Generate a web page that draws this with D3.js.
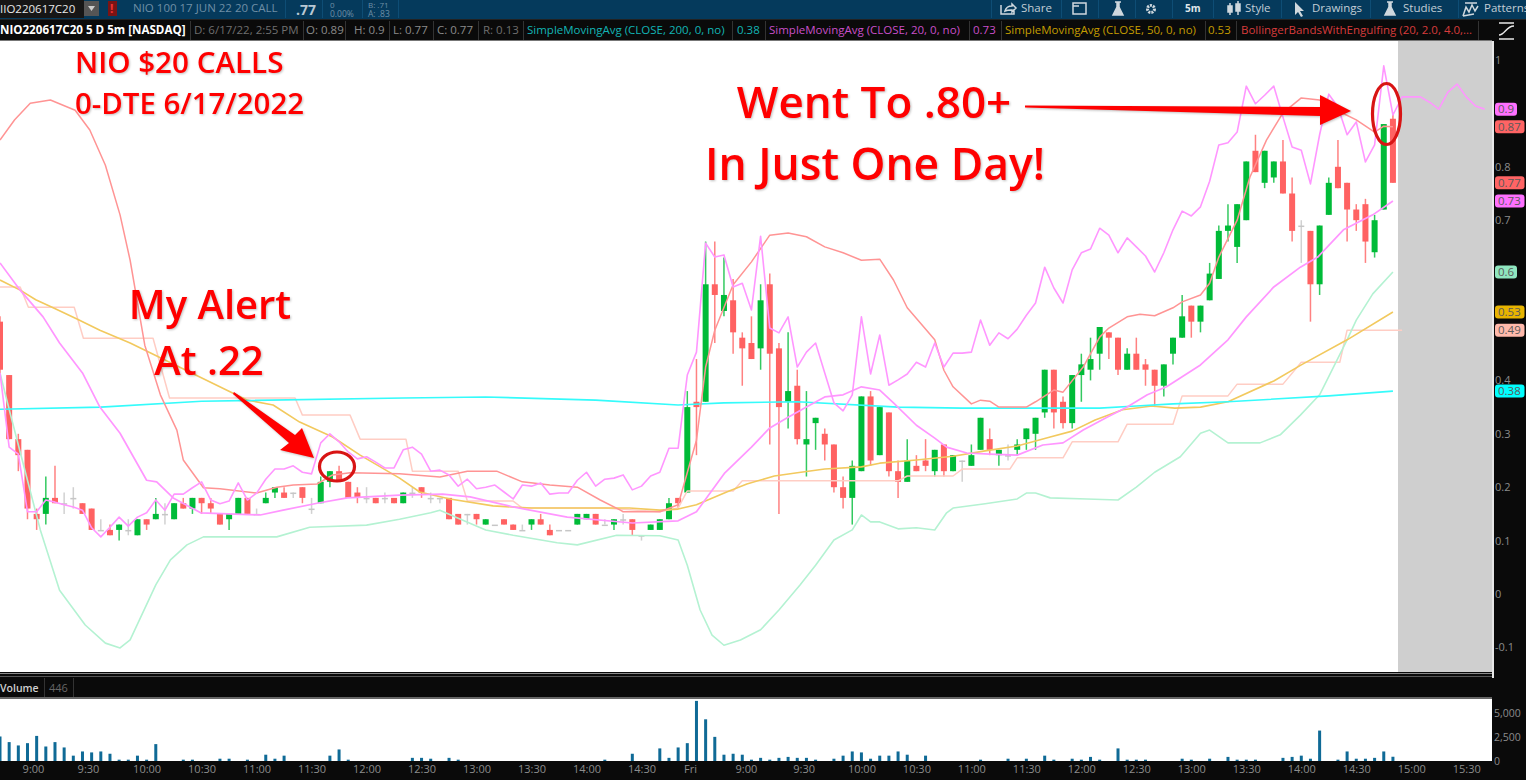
<!DOCTYPE html>
<html><head><meta charset="utf-8">
<script src="https://cdnjs.cloudflare.com/ajax/libs/d3/7.8.5/d3.min.js"></script>
<style>html,body{margin:0;padding:0;background:#0a0a0a;overflow:hidden}svg{display:block}text{font-family:"Open Sans",sans-serif}</style>
</head><body><svg id="c" width="1526" height="780"></svg>
<script>
// ---- Candles (5 min bars, option price in dollars) ----
const opens=[.51,.41,.29,.27,.15,.15,.18,.17,.18,.17,.16,.12,.12,.12,.12,.11,.14,.14,.15,.14,.17,.16,.18,.17,.15,.14,.15,.18,.15,.17,.19,.19,.19,.20,.16,.17,.21,.23,.21,.19,.18,.18,.18,.18,.17,.19,.20,.18,.18,.18,.15,.15,.15,.13,.13,.14,.13,.12,.13,.14,.12,.12,.12,.13,.14,.15,.13,.13,.14,.14,.11,.12,.12,.14,.18,.19,.36,.36,.58,.53,.55,.48,.47,.46,.58,.46,.36,.39,.28,.32,.30,.28,.20,.18,.23,.37,.26,.34,.23,.21,.24,.25,.23,.28,.23,.25,.24,.27,.29,.26,.26,.27,.29,.30,.34,.42,.36,.32,.41,.42,.45,.49,.48,.42,.45,.43,.42,.39,.45,.48,.54,.51,.55,.59,.68,.65,.70,.83,.77,.78,.81,.75,.69,.68,.58,.71,.80,.77,.72,.73,.64,.72,.89];
const highs=[.52,.41,.30,.27,.16,.22,.24,.19,.20,.17,.16,.14,.13,.13,.14,.14,.14,.18,.17,.17,.18,.18,.18,.18,.15,.15,.18,.18,.16,.19,.20,.20,.19,.20,.18,.22,.23,.24,.21,.20,.20,.18,.19,.18,.19,.20,.20,.19,.18,.18,.15,.15,.15,.14,.13,.14,.13,.13,.14,.15,.13,.12,.12,.15,.15,.15,.14,.14,.15,.14,.11,.13,.14,.18,.18,.38,.44,.66,.66,.63,.59,.49,.52,.58,.60,.47,.49,.42,.38,.33,.31,.28,.22,.25,.37,.38,.35,.34,.25,.29,.26,.29,.27,.28,.26,.25,.28,.33,.31,.27,.28,.29,.31,.33,.42,.42,.37,.41,.45,.48,.50,.49,.48,.46,.48,.44,.42,.43,.48,.56,.54,.54,.62,.69,.73,.73,.81,.86,.83,.81,.85,.78,.70,.68,.69,.78,.85,.77,.73,.74,.71,.88,.90];
const lows=[.41,.29,.23,.14,.12,.13,.17,.15,.16,.15,.12,.12,.11,.10,.11,.11,.12,.14,.13,.14,.16,.15,.15,.15,.13,.12,.15,.15,.15,.17,.18,.18,.18,.17,.15,.17,.20,.21,.18,.17,.17,.17,.17,.17,.17,.18,.18,.17,.17,.14,.13,.13,.13,.13,.13,.13,.12,.12,.12,.13,.11,.12,.12,.13,.14,.13,.13,.12,.13,.11,.10,.12,.12,.14,.16,.19,.26,.36,.47,.52,.45,.39,.44,.42,.28,.15,.31,.28,.22,.27,.25,.19,.16,.13,.23,.24,.26,.22,.18,.21,.23,.23,.22,.22,.23,.21,.24,.27,.26,.24,.25,.26,.27,.27,.33,.31,.31,.31,.36,.40,.42,.44,.41,.42,.42,.39,.35,.37,.43,.48,.48,.49,.55,.59,.66,.62,.70,.79,.76,.77,.75,.66,.62,.51,.56,.71,.76,.66,.68,.62,.63,.72,.77];
const closes=[.42,.29,.26,.16,.14,.18,.17,.17,.18,.15,.12,.12,.11,.13,.12,.14,.13,.15,.15,.17,.16,.18,.17,.16,.13,.15,.18,.15,.15,.18,.20,.18,.19,.18,.16,.21,.23,.21,.18,.18,.18,.17,.18,.17,.19,.19,.19,.18,.18,.14,.13,.15,.14,.14,.13,.13,.12,.12,.14,.13,.11,.12,.12,.15,.15,.13,.13,.14,.14,.12,.11,.13,.14,.17,.17,.35,.35,.58,.56,.56,.49,.46,.44,.55,.45,.35,.38,.29,.29,.33,.28,.20,.18,.24,.37,.25,.35,.23,.21,.25,.23,.24,.27,.23,.26,.25,.26,.33,.27,.27,.26,.28,.31,.33,.42,.34,.32,.41,.43,.44,.50,.48,.42,.45,.42,.42,.39,.43,.48,.52,.51,.54,.60,.68,.69,.73,.81,.79,.83,.81,.75,.68,.69,.58,.69,.77,.76,.72,.70,.66,.70,.88,.77];
// ---- Volume per bar ----
const volumes=[2570,1980,1630,1870,2630,1520,1980,1420,560,1000,900,1000,760,140,140,560,140,1770,0,0,140,140,0,0,240,240,0,140,0,660,240,560,0,0,0,0,560,1210,140,0,0,0,0,0,0,330,330,240,0,330,140,0,0,0,0,0,0,0,0,0,0,0,0,0,0,0,140,0,0,760,0,0,1320,330,1420,1870,6300,4370,2530,660,760,660,140,330,140,330,430,330,330,140,0,240,560,1000,900,240,560,560,1000,660,0,560,0,0,0,0,0,140,0,0,240,0,240,0,560,140,0,240,140,430,140,0,1320,140,140,140,0,0,0,240,140,0,240,0,430,140,140,140,0,0,330,430,560,240,3190,0,140,1000,240,240,330,1000,446];
// ---- Studies ----
const upperEnvelope=[.414,.275,.262,.154,.154,.176,.172,.167,.163,.157,.124,.107,.125,.144,.127,.144,.152,.176,.157,.187,.187,.199,.210,.176,.169,.174,.208,.176,.189,.215,.234,.234,.240,.228,.225,.283,.300,.285,.266,.253,.257,.247,.236,.236,.270,.275,.262,.230,.232,.223,.202,.215,.197,.200,.204,.191,.178,.204,.202,.208,.187,.189,.189,.213,.228,.202,.215,.217,.223,.195,.202,.221,.228,.273,.273,.410,.453,.657,.631,.635,.575,.582,.532,.670,.498,.489,.519,.425,.453,.470,.414,.358,.343,.373,.519,.412,.485,.391,.401,.412,.434,.425,.470,.425,.451,.451,.453,.513,.466,.489,.478,.496,.522,.545,.612,.573,.545,.607,.639,.646,.685,.672,.639,.667,.650,.633,.603,.639,.682,.717,.708,.725,.773,.841,.845,.865,.951,.918,.934,.951,.893,.837,.831,.768,.860,.936,.912,.860,.884,.809,.841,.989,.897,.931,.931,.931,.921,.908,.940,.955,.931,.914,.908];
const sma200=[[0,.346],[11,.350],[22,.361],[44,.367],[53,.369],[65,.363],[74,.354],[79,.358],[87,.360],[98,.350],[105,.348],[120,.348],[124,.352],[128,.356],[134,.360],[145,.371],[152,.380]];
const sma20=[[0,.620],[2.2,.569],[4.7,.519],[6.5,.470],[9,.414],[10.9,.350],[13.1,.301],[16,.213],[17.1,.210],[18.9,.180],[21.9,.152],[28.4,.148],[30.9,.157],[34.6,.170],[37.9,.180],[43.6,.185],[48.3,.187],[51.3,.182],[56,.163],[61.9,.144],[69,.133],[74,.137],[76,.154],[79.1,.227],[82,.275],[84,.311],[86,.331],[88,.350],[90,.369],[92,.373],[94,.388],[96,.382],[97.5,.358],[100,.316],[102,.292],[103.3,.275],[105.5,.264],[108,.262],[111,.260],[113.8,.279],[116,.283],[118.2,.307],[120.8,.331],[123,.350],[125.2,.373],[127.3,.388],[131,.429],[134,.476],[136,.519],[139,.575],[141.9,.612],[143.8,.631],[146.6,.682],[149.8,.710],[152,.736]];
const sma50=[[0,.588],[2.2,.569],[3.9,.551],[5.8,.536],[8.4,.515],[10.9,.494],[14.2,.470],[27,.363],[29.8,.354],[32.7,.322],[36.3,.294],[39.3,.260],[43.6,.217],[45.8,.191],[49.1,.178],[53.8,.165],[58,.161],[68.7,.161],[72,.157],[74,.159],[76,.167],[79.3,.191],[81.5,.206],[84.5,.221],[87,.227],[90,.234],[94,.238],[96,.245],[100,.251],[104,.258],[107.5,.268],[111,.277],[114.6,.294],[117,.305],[119.5,.326],[122.5,.345],[125.7,.352],[128.2,.348],[131,.350],[134,.360],[139,.399],[142,.429],[147,.476],[152,.528]];
const bbUpper=[[0,.850],[1.6,.888],[3.3,.919],[5.5,.925],[8.2,.906],[9.8,.869],[11.5,.803],[13.1,.710],[14.2,.625],[15.8,.466],[17.5,.373],[19.3,.307],[20,.251],[22.2,.199],[24,.197],[28,.189],[30.2,.200],[32,.204],[34.6,.206],[36.3,.223],[38.2,.227],[43.6,.225],[48,.219],[51,.230],[54.2,.230],[57,.210],[60,.204],[63,.200],[65.5,.176],[67.7,.157],[68,.154],[72,.154],[74,.167],[76,.288],[77,.425],[78,.494],[80,.579],[82,.622],[84,.672],[86,.676],[88,.669],[90,.650],[92,.639],[94,.625],[96,.627],[97.5,.588],[99,.536],[102,.476],[103,.419],[104,.388],[106,.356],[107,.363],[108,.361],[109,.350],[112,.350],[113,.360],[115,.382],[116,.378],[118.2,.425],[120,.481],[121,.498],[123,.519],[124.4,.524],[126,.521],[128,.536],[129,.547],[131,.560],[132,.582],[133,.631],[135,.700],[136.4,.781],[138.2,.850],[140,.901],[142,.929],[144,.925],[146.2,.903],[148,.888],[150,.865],[151,.876],[152,.875]];
const bbLower=[[0,.414],[1.1,.339],[4.4,.120],[6.5,.007],[9.3,-.058],[11.5,-.092],[13.1,-.101],[14.2,-.086],[17,.017],[18.6,.064],[20.4,.092],[22.2,.107],[30.2,.107],[33.8,.125],[40,.129],[43.6,.140],[47,.152],[48,.157],[50,.142],[53,.120],[56,.110],[60.8,.096],[63,.092],[67.3,.110],[72,.109],[74,.101],[75,.054],[76.4,-.030],[77.7,-.077],[79,-.096],[80.8,-.086],[83,-.067],[85,-.030],[87.3,.017],[89,.054],[91,.101],[93,.120],[94,.148],[95,.135],[96,.135],[98,.122],[100,.124],[102,.120],[103.3,.152],[104,.161],[107.5,.169],[111,.178],[112,.189],[113,.189],[114.6,.180],[118.6,.178],[122,.176],[124,.200],[126,.228],[128.8,.257],[131,.301],[132,.307],[134,.283],[137.5,.283],[139.7,.298],[141.9,.335],[144,.373],[147,.476],[148,.513],[149.8,.562],[152,.603]];
const stepLine=[[0,.575],[2.2,.575],[3.1,.537],[8.1,.537],[9.1,.479],[16.7,.479],[18.5,.367],[32.2,.367],[33,.335],[38.2,.335],[39.3,.290],[44.3,.290],[45,.230],[50,.230],[51,.174],[56,.174],[57,.161],[66,.161],[72,.154],[74,.161],[75,.193],[80,.193],[81,.212],[98,.212],[99,.221],[104,.221],[105,.234],[110.2,.234],[111,.255],[116,.255],[117,.285],[122,.285],[123,.318],[128,.318],[129,.371],[134,.371],[135,.393],[140,.393],[142,.434],[146.2,.434],[147,.494],[153,.494]];
// ---- Axis labels and tags ----
const priceTicks=[1,.8,.7,.4,.3,.2,.1,0,-.1];
const priceTickLabels=["1","0.8","0.7","0.4","0.3","0.2","0.1","0","-0.1"];
const volumeTicks=[5000,2500];
const timeBars=[3.6,9.6,16,22,28,34,40,46,52,58,64,70,75.3,81.4,87.7,94,100,106,112,118,124,130,136,142,148,154,160];
const timeLabels=["9:00","9:30","10:00","10:30","11:00","11:30","12:00","12:30","13:00","13:30","14:00","14:30","Fri","9:00","9:30","10:00","10:30","11:00","11:30","12:00","12:30","13:00","13:30","14:00","14:30","15:00","15:30"];
const tagValues=[.908,.875,.77,.736,.603,.528,.494,.38];
const tagLabels=["0.9","0.87","0.77","0.73","0.6","0.53","0.49","0.38"];
const tagColors=["#ff70ff","#ff6464","#ff6464","#ff70ff","#8fe6bf","#e8b400","#ffb9ab","#00ffff"];
const headerCells=[
 ["NIO220617C20 5 D 5m [NASDAQ]",0,"#ffffff",700],["D: 6/17/22, 2:55 PM",194,"#6f6f6f",400],["O: 0.89",306,"#8a8a8a",400],["H: 0.9",354,"#8a8a8a",400],["L: 0.77",393,"#8a8a8a",400],["C: 0.77",437,"#8a8a8a",400],["R: 0.13",483,"#6f6f6f",400],
 ["SimpleMovingAvg (CLOSE, 200, 0, no)",527,"#12b5b5",400],["0.38",737,"#12b5b5",400],["SimpleMovingAvg (CLOSE, 20, 0, no)",769,"#c94fc9",400],["0.73",973,"#c94fc9",400],["SimpleMovingAvg (CLOSE, 50, 0, no)",1005,"#c49c00",400],["0.53",1208,"#c49c00",400],["BollingerBandsWithEngulfing (20, 2.0, 4.0,...",1241,"#d83c3c",400]];
const headerSeparators=[190,303,345,389,433,478,523,732,765,969,1001,1205,1236,1478];
const toolbarLabels=[["Share",1021],["Style",1245],["Drawings",1312],["Studies",1403],["Patterns",1484]];
const toolbarSeparators=[991,1061,1098,1135,1172,1213,1281,1370,1458];

const svg=d3.select("#c");
const bar=i=>9.164*i;
const x=d3.scaleLinear().domain([0,162]).range([bar(0),bar(162)]);
const y=d3.scaleLinear().domain([-.1,1]).range([647.4,60]);
const yV=d3.scaleLinear().domain([0,5000]).range([761,713.3]);
const rect=(g,a,b,w,h,f)=>g.append("rect").attr("x",a).attr("y",b).attr("width",w).attr("height",h).attr("fill",f);
const txt=(g,s,a,b,o={})=>g.append("text").attr("x",a).attr("y",b).text(s).attr("font-size",o.size||11).attr("fill",o.fill||"#999").attr("font-weight",o.weight||400).attr("text-anchor",o.anchor||"start");

// panels
rect(svg,0,0,1526,780,"#0a0a0a");
rect(svg,0,0,1526,19,"#053a5c");
rect(svg,0,41,1492,631,"#ffffff");
rect(svg,1398,41,94,631,"#cfcfcf");
rect(svg,0,673,1492,1,"#8a8a8a");rect(svg,0,676,1492,1,"#555");
rect(svg,0,697,1492,2,"#666");
rect(svg,0,699,1492,62,"#ffffff");
rect(svg,1492,41,2,637,"#e8e8e8");
rect(svg,0,40,1492,1,"#777");rect(svg,0,19,1526,1,"#222");

// toolbar
const tb=svg.append("g");
rect(tb,0,0,84,18,"#161616");
txt(tb,"IIO220617C20",0,13,{fill:"#e8e8e8",size:11.5});
rect(tb,84,1,15,15,"#555");tb.append("path").attr("d","M88 6h7l-3.5 5z").attr("fill","#ccc");
rect(tb,108,1,9,15,"#7a1414");txt(tb,"!",110,13,{fill:"#e33",size:12,weight:700});
txt(tb,"NIO 100 17 JUN 22 20 CALL",133,12,{fill:"#6f8fa6",size:11.5});
txt(tb,".77",296,15,{fill:"#b8c8d4",size:14,weight:700});
txt(tb,"0",330,8,{fill:"#6f8fa6",size:8});txt(tb,"0.00%",330,17,{fill:"#6f8fa6",size:8.5});
txt(tb,"B: .71",368,8,{fill:"#6f8fa6",size:8});txt(tb,"A: .83",368,17,{fill:"#6f8fa6",size:8.5});
[285,322,362,398].forEach(a=>rect(tb,a,0,1,18,"#0e4d75"));
toolbarSeparators.forEach(a=>rect(tb,a,0,1,18,"#0e4d75"));
toolbarLabels.forEach(d=>txt(tb,d[0],d[1],12,{fill:"#c3ced6",size:11.5}));
txt(tb,"5m",1185,12,{fill:"#dfe6ea",size:10,weight:700});
const ic=tb.append("g").attr("fill","none").attr("stroke","#cfd8de").attr("stroke-width",1.5);
ic.append("path").attr("d","M1001 5v9h13v-5M1005 11c1-4 4-5 7-5v-2l4 4-4 4v-2c-3 0-5 0-7 1z");
ic.append("path").attr("d","M1073 3h13v11h-13zM1073 6h6");
ic.append("path").attr("d","M1115 2h6M1117 2v5l-4 8h10l-4-8v-5").attr("fill","#cfd8de");
ic.append("circle").attr("cx",1151).attr("cy",9).attr("r",3.5).attr("stroke-width",3).attr("stroke-dasharray","2 1");
ic.append("path").attr("d","M1230 3v12M1238 1v14M1228 6h4v6h-4zM1236 4h4v7h-4z").attr("fill","#cfd8de");
ic.append("path").attr("d","M1295 2v13l3-3 3 5 2-1-3-5h4z").attr("fill","#cfd8de").attr("stroke","none");
ic.append("path").attr("d","M1387 2h6M1389 2v5l-4 8h10l-4-8v-5").attr("fill","#cfd8de");
ic.append("path").attr("d","M1465 3h12M1463 16l3-9 3 5 3-7 3 6 3-5M1463 16l11-2");

// header row
const hd=svg.append("g");
headerCells.forEach(d=>txt(hd,d[0],d[1],34,{fill:d[2],weight:d[3],size:d[3]===700?11.6:11.5}));
headerSeparators.forEach(a=>rect(hd,a,21,1,19,"#333"));
const sq=svg.append("g").attr("fill","none").attr("stroke","#e8e8e8").attr("stroke-width",1.4);
sq.append("path").attr("d","M1499 23h15M1499 39h15M1499 35c6 0 7-9 15-9");

// clipped price pane
const defs=svg.append("defs");
defs.append("clipPath").attr("id","pane").append("rect").attr("x",0).attr("y",41).attr("width",1492).attr("height",631);
const pane=svg.append("g").attr("clip-path","url(#pane)");

// candles
const candles=d3.range(closes.length);
const tone=i=>closes[i]>opens[i]?"#00bb38":closes[i]<opens[i]?"#ff6262":"#c6c6c6";
pane.selectAll("line.w").data(candles).join("line").attr("class","w")
 .attr("x1",x).attr("x2",x).attr("y1",i=>y(highs[i])).attr("y2",i=>y(lows[i]))
 .attr("stroke",tone).attr("stroke-width",1.5).attr("stroke-opacity",.8);
pane.selectAll("rect.b").data(candles).join("rect").attr("class","b")
 .attr("x",i=>x(i)-3).attr("width",6)
 .attr("y",i=>y(Math.max(opens[i],closes[i])))
 .attr("height",i=>Math.max(1.5,Math.abs(y(opens[i])-y(closes[i]))))
 .attr("fill",tone);

// studies
const line=d3.line().x(d=>x(d[0])).y(d=>y(d[1]));
const draw=(data,color,w)=>pane.append("path").attr("d",line(data)).attr("fill","none").attr("stroke",color).attr("stroke-width",w).attr("stroke-linejoin","round");
draw(stepLine,"#ffcdc4",1.5);
draw(bbLower,"#b4f2d2",1.6);
draw(sma50,"#f2c95e",1.6);
draw(sma200,"#35fbfb",1.6);
draw(bbUpper,"#ff9494",1.5);
draw(sma20,"#ff96ff",1.7);
draw(upperEnvelope.map((v,i)=>[i,v]),"#ff96ff",1.6);

// price axis
const axP=svg.append("g").attr("transform","translate(1492,0)")
 .call(d3.axisRight(y).tickValues(priceTicks).tickSize(0).tickPadding(3).tickFormat((d,i)=>priceTickLabels[i]));
axP.select(".domain").remove();axP.selectAll("text").attr("fill","#8c8c8c").attr("font-size",11).attr("font-family",'"Open Sans"');
// tags
const tags=svg.append("g");
tagValues.forEach((v,i)=>{
 tags.append("rect").attr("x",1495).attr("y",y(v)-6.5).attr("width",tagLabels[i].length>3?29.5:22).attr("height",13).attr("rx",3).attr("fill",tagColors[i]);
 txt(tags,tagLabels[i],1498,y(v)+4,{fill:"#5a5a5a",size:11.5});
});

// volume
const volG=svg.append("g");
txt(volG,"Volume",0,692,{fill:"#d0d0d0",size:10.5,weight:600});
rect(volG,44,678,1,19,"#333");rect(volG,73,678,1,19,"#333");
txt(volG,"446",49,692,{fill:"#666",size:11});
volG.selectAll("rect.v").data(volumes).join("rect").attr("class","v")
 .attr("x",(d,i)=>x(i)-1.5).attr("width",3).attr("y",d=>yV(d)).attr("height",d=>761-yV(d)).attr("fill","#0f6a96");
const axV=svg.append("g").attr("transform","translate(1492,0)")
 .call(d3.axisRight(yV).tickValues(volumeTicks).tickSize(0).tickPadding(2).tickFormat(d3.format(",")));
axV.select(".domain").remove();axV.selectAll("text").attr("fill","#8c8c8c").attr("font-size",10.5).attr("font-family",'"Open Sans"');
txt(volG,"0",1494,765,{fill:"#8c8c8c",size:10.5});

// time axis
const axT=svg.append("g").attr("transform","translate(0,761)")
 .call(d3.axisBottom(x).tickValues(timeBars).tickSize(0).tickPadding(4).tickFormat((d,i)=>timeLabels[i]));
axT.select(".domain").remove();axT.selectAll("text").attr("fill","#8c8c8c").attr("font-size",11).attr("font-family",'"Open Sans"');

// annotations
const red="#ff0000";
const ann=svg.append("g").style("filter","drop-shadow(1px 1px 1px rgba(0,0,0,.25))");
const big=(s,a,b,size,anchor)=>txt(ann,s,a,b,{fill:red,size,weight:600,anchor});
big("NIO $20 CALLS",75,73,29.6,"start");
big("0-DTE 6/17/2022",75,114,29.4,"start");
big("My Alert",210,319,40,"middle");
big("At .22",209,375,40,"middle");
big("Went To .80+",874,118,44,"middle");
big("In Just One Day!",875,180,44.4,"middle");
ann.append("path").attr("fill",red).attr("d","M1025 105.5L1320 107L1320 95L1351 111L1320 125L1320 116L1025 107.5Z");
ann.append("path").attr("fill",red).attr("d","M234 392L295 435L302 428L314 458L280 450L289 443L233 394Z");
const ell=(cx,cy,rx,ry)=>svg.append("ellipse").attr("cx",cx).attr("cy",cy).attr("rx",rx).attr("ry",ry).attr("fill","none").attr("stroke","#d81414").attr("stroke-width",3.2);
ell(337,466.5,17.5,14.5);
ell(1386.5,114,14,30.5);
</script></body></html>
